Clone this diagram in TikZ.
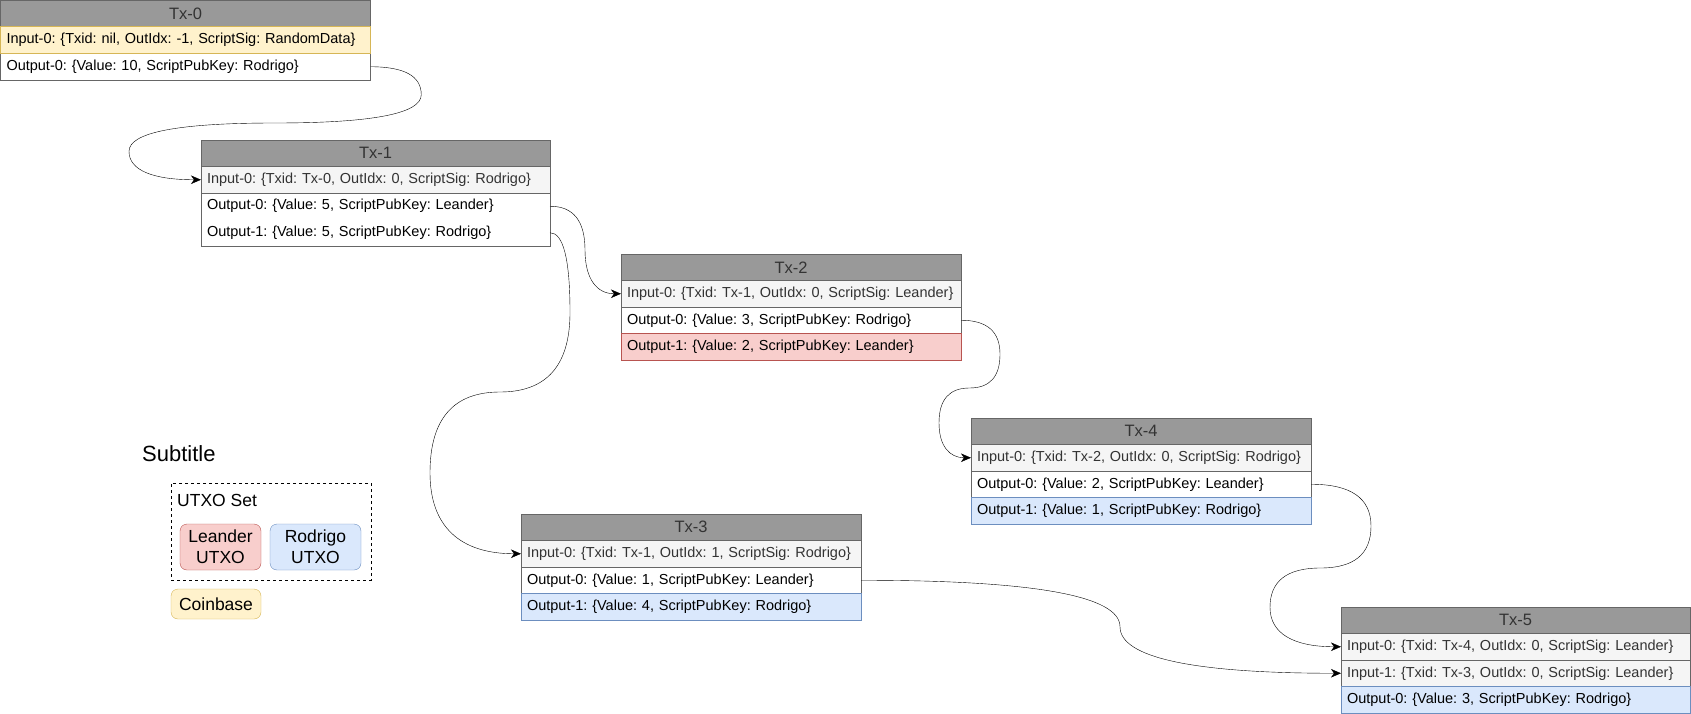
\documentclass[tikz,border=0pt]{standalone}
\usepackage{fontspec}
\setmainfont{Liberation Sans}
\usetikzlibrary{calc,arrows.meta}

\definecolor{hdrfill}{HTML}{999999}
\definecolor{hdrline}{HTML}{666666}
\definecolor{greytext}{HTML}{333333}
\definecolor{infill}{HTML}{F5F5F5}
\definecolor{redfill}{HTML}{F8CECC}
\definecolor{redline}{HTML}{B85450}
\definecolor{bluefill}{HTML}{DAE8FC}
\definecolor{blueline}{HTML}{6C8EBF}
\definecolor{yelfill}{HTML}{FFF2CC}
\definecolor{yelline}{HTML}{D6B656}

\pgfdeclarelayer{frames}
\pgfsetlayers{frames,main}

\tikzset{
  rowfont/.style={font=\fontsize{14.5}{17}\selectfont\frenchspacing},
  legtext/.style={font=\fontsize{17.5}{21}\selectfont},
  txhead/.style={anchor=north west, draw=hdrline, fill=hdrfill, text=greytext,
    minimum width=#1, minimum height=26.5pt, inner sep=0pt, outer sep=0pt,
    font=\fontsize{16.5}{19}\selectfont},
  txrow/.style={anchor=north west, minimum height=26.5pt, inner xsep=6pt,
    inner ysep=0pt, outer sep=0pt, text width=#1, align=left, rowfont},
  inrow/.style={txrow=#1, draw=hdrline, fill=infill, text=greytext},
  outrow/.style={txrow=#1, draw=none},
  redrow/.style={txrow=#1, draw=redline, fill=redfill},
  bluerow/.style={txrow=#1, draw=blueline, fill=bluefill},
  coinrow/.style={txrow=#1, draw=yelline, fill=yelfill},
  frame/.style={draw=hdrline},
  legbox/.style={rounded corners=7pt, minimum height=46pt, align=center,
    inner sep=0pt, outer sep=0pt, legtext},
  link/.style={draw=black, -{Stealth[length=10pt,width=8.5pt,inset=3pt]}},
  % quadratic segment: from #1, control #2, to #3
  qto/.style n args={3}{insert path={.. controls ($(#1)!0.6667!(#2)$) and ($(#3)!0.6667!(#2)$) .. (#3)}},
}

\begin{document}
\hyphenpenalty=10000
\begin{tikzpicture}[x=1pt, y=-1pt, line width=1pt]
\useasboundingbox (0,0) rectangle (1691,714);

% ---------------- Tx-0 ----------------
\node[txhead=370pt] (tx0h) at (0.5,0.5) {Tx-0};
\node[coinrow=358pt] (tx0i0) at (tx0h.south west) {Input-0: \{Txid: nil, OutIdx: -1, ScriptSig: RandomData\}};
\node[outrow=358pt] (tx0o0) at (tx0i0.south west) {Output-0: \{Value: 10, ScriptPubKey: Rodrigo\}};
\begin{pgfonlayer}{frames}
  \draw[frame] (tx0h.north west) rectangle (tx0o0.south east);
\end{pgfonlayer}

% ---------------- Tx-1 ----------------
\node[txhead=349pt] (tx1h) at (201,140) {Tx-1};
\node[inrow=337pt] (tx1i0) at (tx1h.south west) {Input-0: \{Txid: Tx-0, OutIdx: 0, ScriptSig: Rodrigo\}};
\node[outrow=337pt] (tx1o0) at (tx1i0.south west) {Output-0: \{Value: 5, ScriptPubKey: Leander\}};
\node[outrow=337pt] (tx1o1) at (tx1o0.south west) {Output-1: \{Value: 5, ScriptPubKey: Rodrigo\}};
\begin{pgfonlayer}{frames}
  \draw[frame] (tx1h.north west) rectangle (tx1o1.south east);
\end{pgfonlayer}

% ---------------- Tx-2 ----------------
\node[txhead=340pt] (tx2h) at (621,254) {Tx-2};
\node[inrow=328pt] (tx2i0) at (tx2h.south west) {Input-0: \{Txid: Tx-1, OutIdx: 0, ScriptSig: Leander\}};
\node[outrow=328pt] (tx2o0) at (tx2i0.south west) {Output-0: \{Value: 3, ScriptPubKey: Rodrigo\}};
\node[redrow=328pt] (tx2o1) at (tx2o0.south west) {Output-1: \{Value: 2, ScriptPubKey: Leander\}};
\begin{pgfonlayer}{frames}
  \draw[frame] (tx2h.north west) rectangle (tx2o1.south east);
\end{pgfonlayer}

% ---------------- Tx-3 ----------------
\node[txhead=340pt] (tx3h) at (521,514) {Tx-3};
\node[inrow=328pt] (tx3i0) at (tx3h.south west) {Input-0: \{Txid: Tx-1, OutIdx: 1, ScriptSig: Rodrigo\}};
\node[outrow=328pt] (tx3o0) at (tx3i0.south west) {Output-0: \{Value: 1, ScriptPubKey: Leander\}};
\node[bluerow=328pt] (tx3o1) at (tx3o0.south west) {Output-1: \{Value: 4, ScriptPubKey: Rodrigo\}};
\begin{pgfonlayer}{frames}
  \draw[frame] (tx3h.north west) rectangle (tx3o1.south east);
\end{pgfonlayer}

% ---------------- Tx-4 ----------------
\node[txhead=340pt] (tx4h) at (971,418) {Tx-4};
\node[inrow=328pt] (tx4i0) at (tx4h.south west) {Input-0: \{Txid: Tx-2, OutIdx: 0, ScriptSig: Rodrigo\}};
\node[outrow=328pt] (tx4o0) at (tx4i0.south west) {Output-0: \{Value: 2, ScriptPubKey: Leander\}};
\node[bluerow=328pt] (tx4o1) at (tx4o0.south west) {Output-1: \{Value: 1, ScriptPubKey: Rodrigo\}};
\begin{pgfonlayer}{frames}
  \draw[frame] (tx4h.north west) rectangle (tx4o1.south east);
\end{pgfonlayer}

% ---------------- Tx-5 ----------------
\node[txhead=349pt] (tx5h) at (1341,607) {Tx-5};
\node[inrow=337pt] (tx5i0) at (tx5h.south west) {Input-0: \{Txid: Tx-4, OutIdx: 0, ScriptSig: Leander\}};
\node[inrow=337pt] (tx5i1) at (tx5i0.south west) {Input-1: \{Txid: Tx-3, OutIdx: 0, ScriptSig: Leander\}};
\node[bluerow=337pt] (tx5o0) at (tx5i1.south west) {Output-0: \{Value: 3, ScriptPubKey: Rodrigo\}};
\begin{pgfonlayer}{frames}
  \draw[frame] (tx5h.north west) rectangle (tx5o0.south east);
\end{pgfonlayer}

% ---------------- legend ----------------
\node[font=\fontsize{22}{26}\selectfont, anchor=west, inner sep=0pt] (subtitle) at (142,454) {Subtitle};
\node[draw=black, dash pattern=on 3pt off 3pt, minimum width=200pt, minimum height=97pt,
      anchor=north west, inner sep=0pt, outer sep=0pt] (utxoset) at (171,483) {};
\node[legtext, anchor=west, inner sep=0pt] (utxolabel) at (177,500) {UTXO Set};
\node[legbox, fill=redfill, draw=redline, minimum width=81pt] (leander) at (220.5,547) {Leander\\UTXO};
\node[legbox, fill=bluefill, draw=blueline, minimum width=91pt] (rodrigo) at (315.5,547) {Rodrigo\\UTXO};
\node[legbox, fill=yelfill, draw=yelline, minimum width=90pt, minimum height=30pt] (coinbase) at (216,604) {Coinbase};

% ---------------- spending links ----------------
% Tx-0 / Output-0 -> Tx-1 / Input-0
\coordinate (e1a) at ($(tx0o0.east)+(51,0)$);
\coordinate (e1b) at (421,123);
\coordinate (e1c) at (129,123);
\coordinate (e1d) at ($(tx1i0.west)+(-72,0)$);
\coordinate (e1ab) at ($(e1a)!.5!(e1b)$);
\coordinate (e1bc) at ($(e1b)!.5!(e1c)$);
\coordinate (e1cd) at ($(e1c)!.5!(e1d)$);
\draw[link] (tx0o0.east) [qto={tx0o0.east}{e1a}{e1ab}] [qto={e1ab}{e1b}{e1bc}]
  [qto={e1bc}{e1c}{e1cd}] [qto={e1cd}{e1d}{tx1i0.west}];

% Tx-1 / Output-0 -> Tx-2 / Input-0
\coordinate (e2a) at ($(tx1o0.east)+(35,0)$);
\coordinate (e2b) at ($(tx2i0.west)+(-36,0)$);
\coordinate (e2ab) at ($(e2a)!.5!(e2b)$);
\draw[link] (tx1o0.east) [qto={tx1o0.east}{e2a}{e2ab}] [qto={e2ab}{e2b}{tx2i0.west}];

% Tx-1 / Output-1 -> Tx-3 / Input-0
\coordinate (e3a) at ($(tx1o1.east)+(20,0)$);
\coordinate (e3b) at (570,392);
\coordinate (e3c) at (430,392);
\coordinate (e3d) at ($(tx3i0.west)+(-91,0)$);
\coordinate (e3ab) at ($(e3a)!.5!(e3b)$);
\coordinate (e3bc) at ($(e3b)!.5!(e3c)$);
\coordinate (e3cd) at ($(e3c)!.5!(e3d)$);
\draw[link] (tx1o1.east) [qto={tx1o1.east}{e3a}{e3ab}] [qto={e3ab}{e3b}{e3bc}]
  [qto={e3bc}{e3c}{e3cd}] [qto={e3cd}{e3d}{tx3i0.west}];

% Tx-2 / Output-0 -> Tx-4 / Input-0
\coordinate (e4a) at ($(tx2o0.east)+(39,0)$);
\coordinate (e4b) at (1000,388);
\coordinate (e4c) at (939,388);
\coordinate (e4d) at ($(tx4i0.west)+(-32,0)$);
\coordinate (e4ab) at ($(e4a)!.5!(e4b)$);
\coordinate (e4bc) at ($(e4b)!.5!(e4c)$);
\coordinate (e4cd) at ($(e4c)!.5!(e4d)$);
\draw[link] (tx2o0.east) [qto={tx2o0.east}{e4a}{e4ab}] [qto={e4ab}{e4b}{e4bc}]
  [qto={e4bc}{e4c}{e4cd}] [qto={e4cd}{e4d}{tx4i0.west}];

% Tx-4 / Output-0 -> Tx-5 / Input-0
\coordinate (e5a) at ($(tx4o0.east)+(60,0)$);
\coordinate (e5b) at (1371,568);
\coordinate (e5c) at (1270,568);
\coordinate (e5d) at ($(tx5i0.west)+(-71,0)$);
\coordinate (e5ab) at ($(e5a)!.5!(e5b)$);
\coordinate (e5bc) at ($(e5b)!.5!(e5c)$);
\coordinate (e5cd) at ($(e5c)!.5!(e5d)$);
\draw[link] (tx4o0.east) [qto={tx4o0.east}{e5a}{e5ab}] [qto={e5ab}{e5b}{e5bc}]
  [qto={e5bc}{e5c}{e5cd}] [qto={e5cd}{e5d}{tx5i0.west}];

% Tx-3 / Output-0 -> Tx-5 / Input-1
\coordinate (e6a) at ($(tx3o0.east)+(259,0)$);
\coordinate (e6b) at ($(tx5i1.west)+(-221,0)$);
\coordinate (e6ab) at ($(e6a)!.5!(e6b)$);
\draw[link] (tx3o0.east) [qto={tx3o0.east}{e6a}{e6ab}] [qto={e6ab}{e6b}{tx5i1.west}];

\end{tikzpicture}
\end{document}
